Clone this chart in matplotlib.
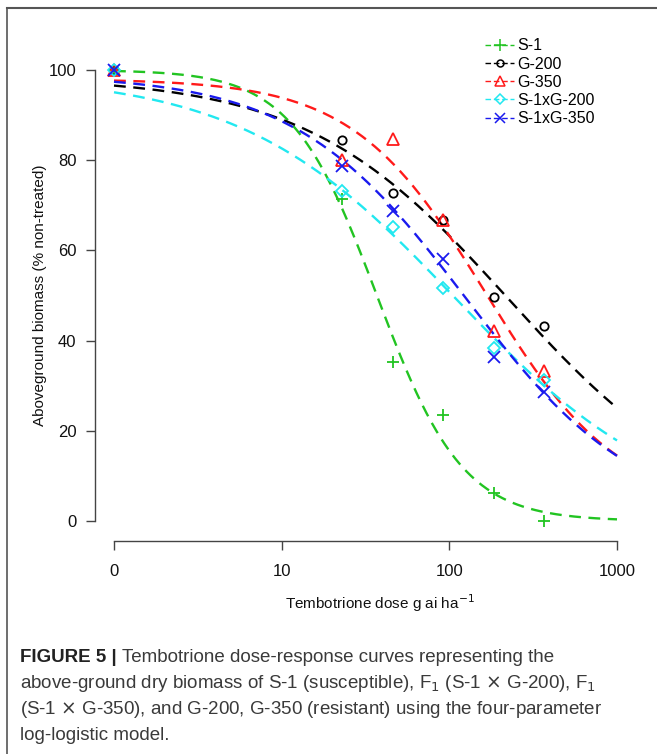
import numpy as np
import matplotlib
matplotlib.use("Agg")
import matplotlib.pyplot as plt
from matplotlib.lines import Line2D

plt.rcParams['font.family'] = ['Liberation Sans', 'DejaVu Sans']

# ---------------- data ----------------
doses = [0, 23, 46, 92, 184, 368]          # g ai ha-1 (0 plotted at 1 on log axis)
s1 = [100, 71.5, 35.3, 23.4, 6.1, 0.0]
g200 = [100, 84.5, 72.8, 66.8, 49.6, 43.2]
g350 = [100, 80.0, 84.8, 66.7, 42.2, 33.3]
s1xg200 = [100, 73.2, 65.2, 51.6, 38.4, 31.2]
s1xg350 = [100, 78.8, 68.7, 58.2, 36.4, 28.7]

series_names = ["S-1", "G-200", "G-350", "S-1xG-200", "S-1xG-350"]
series_values = [s1, g200, g350, s1xg200, s1xg350]

# four-parameter log-logistic fitted parameters (b, c, d, e)
fit_b = [1.70, 0.72, 1.10, 0.68, 0.85]
fit_c = [0.0, 0.0, 3.0, 0.0, 0.0]
fit_d = [100.0, 98.5, 98.0, 99.0, 99.0]
fit_e = [37.0, 225.0, 165.0, 108.0, 125.0]

xtick_vals = [1, 10, 100, 1000]
xtick_labels = ["0", "10", "100", "1000"]
ytick_vals = [0, 20, 40, 60, 80, 100]

# ---------------- styles ----------------
colors = ["#22c422", "black", "#ff1a1a", "#22e8f0", "#1a1aee"]
markers = ["+", "o", "^", "D", "x"]
msizes = [9, 6, 8, 6, 8]

W, H = 657, 754
PT = 72 / 100  # points per pixel at dpi 100
fig = plt.figure(figsize=(W / 100, H / 100), dpi=100)

# frame lines (top and left)
fig.add_artist(Line2D([7 / W, 1.0], [1 - 8 / H, 1 - 8 / H], color="#555555", lw=1.5))
fig.add_artist(Line2D([7 / W, 7 / W], [0, 1 - 8 / H], color="#555555", lw=1.2))

x0, x1 = 114, 617
ytop, ybot = 70, 521
ax = fig.add_axes([x0 / W, 1 - ybot / H, (x1 - x0) / W, (ybot - ytop) / H])
ax.set_xscale("log")
ax.set_xlim(1, 1000)
ax.set_ylim(0, 100)

xs = np.logspace(0, 3, 400)
for i in range(5):
    b, c, d, e = fit_b[i], fit_c[i], fit_d[i], fit_e[i]
    curve = c + (d - c) / (1 + np.exp(b * (np.log(xs) - np.log(e))))
    ax.plot(xs, curve, color=colors[i], lw=1.7, ls=(0, (5, 3.2)), clip_on=False, zorder=2)

xd = [max(v, 1) for v in doses]
for i in range(5):
    ax.plot(xd, series_values[i], ls="none", marker=markers[i], ms=msizes[i],
            mec=colors[i], mfc="none", mew=1.3, color=colors[i], clip_on=False, zorder=3)

for sp in ["top", "right"]:
    ax.spines[sp].set_visible(False)
ax.spines["left"].set_position(("outward", 19 * PT))
ax.spines["bottom"].set_position(("outward", 20 * PT))
ax.spines["left"].set_bounds(0, 100)
ax.spines["bottom"].set_bounds(1, 1000)
for sp in ["left", "bottom"]:
    ax.spines[sp].set_color("#444444")
    ax.spines[sp].set_linewidth(1.0)

ax.set_xticks(xtick_vals)
ax.set_xticklabels(xtick_labels)
ax.xaxis.set_minor_locator(matplotlib.ticker.NullLocator())
ax.set_yticks(ytick_vals)
ax.tick_params(axis="both", length=9 * PT, width=1.0, color="#444444", labelsize=12, labelcolor="#111111")
ax.tick_params(axis="x", pad=10)
ax.tick_params(axis="y", pad=7)

ax.set_xlabel("Tembotrione dose g ai ha$^{-1}$", fontsize=11, color="#111111")
ax.set_ylabel("Aboveground biomass (% non-treated)", fontsize=11, color="#111111")
ax.xaxis.set_label_coords((380 - x0) / (x1 - x0), -(603 - ybot) / (ybot - ytop))
ax.yaxis.set_label_coords(-(114 - 40) / (x1 - x0), 0.5)
ax.xaxis.label.set_va("center")
ax.yaxis.label.set_va("center")

# legend
handles = [Line2D([], [], color=colors[i], ls=(0, (4, 2)), lw=1.0, marker=markers[i],
                  ms=msizes[i] - 1, mfc="none", mec=colors[i], mew=1.1) for i in range(5)]
leg = ax.legend(handles, series_names, loc="upper left",
                bbox_to_anchor=((479 - x0) / (x1 - x0), 1 + 38 / (ybot - ytop)),
                frameon=False, fontsize=11.5, handlelength=1.8, handletextpad=0.2,
                labelspacing=0.2, borderaxespad=0)

# caption
cap_color = "#3a3a3a"
fs = 13.5
line_y = [658, 684, 710, 736]
t = fig.text(20 / W, 1 - line_y[0] / H, "FIGURE 5 |", fontsize=fs, fontweight="bold",
             color="#222222", va="center", ha="left")
fig.canvas.draw()
bb = t.get_window_extent()
fig.text((bb.x1 + 5) / W, 1 - line_y[0] / H, "Tembotrione dose-response curves representing the",
         fontsize=fs, color=cap_color, va="center", ha="left")
lines = [
    r"above-ground dry biomass of S-1 (susceptible), F$_1$ (S-1 $\times$ G-200), F$_1$",
    r"(S-1 $\times$ G-350), and G-200, G-350 (resistant) using the four-parameter",
    "log-logistic model.",
]
for k, s in enumerate(lines):
    fig.text(20 / W, 1 - line_y[k + 1] / H, s, fontsize=fs, color=cap_color, va="center", ha="left")

fig.savefig("out.png", dpi=100)
